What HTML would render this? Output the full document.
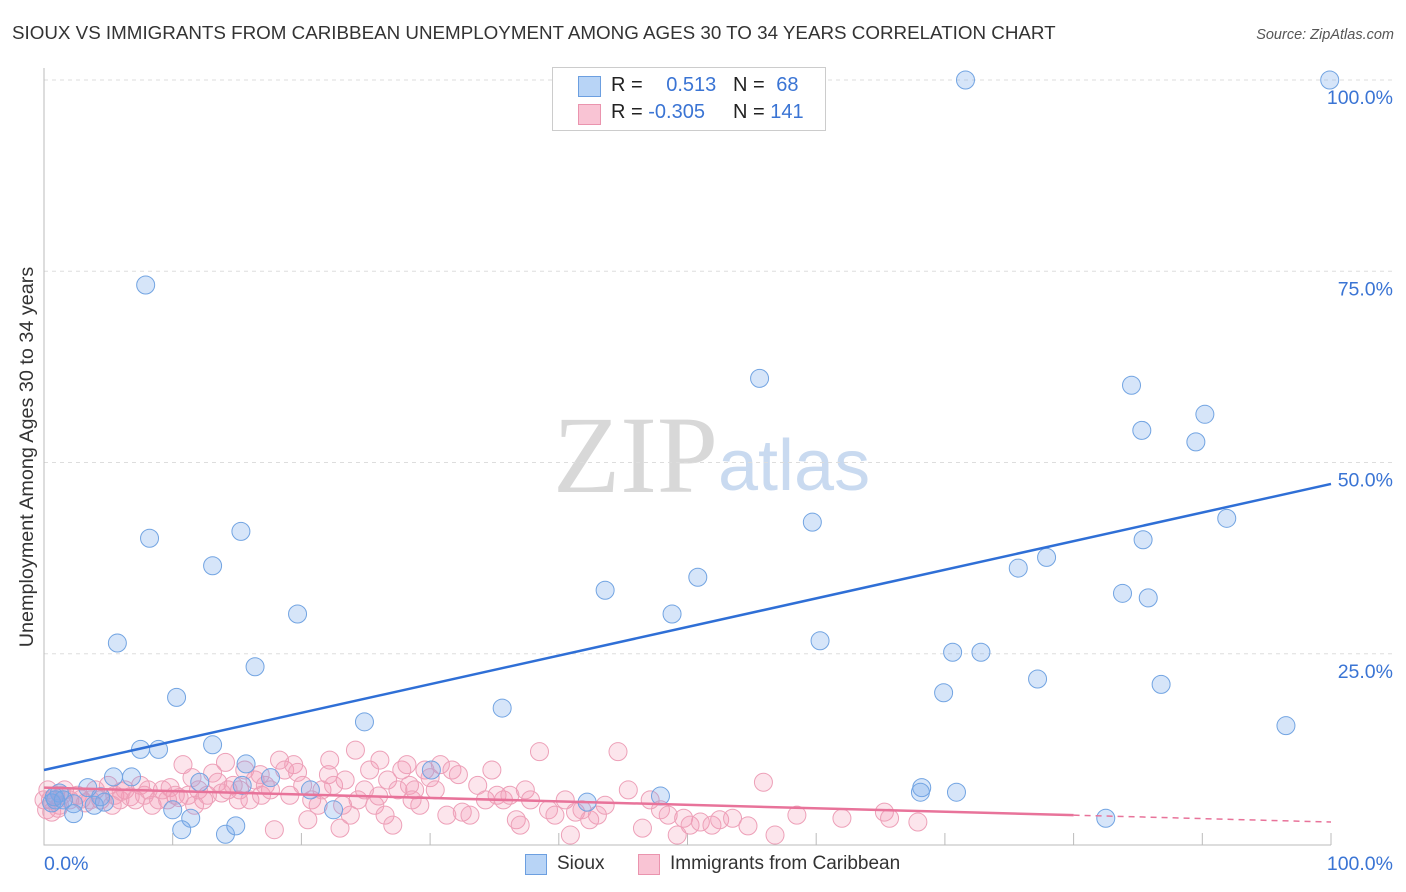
<!DOCTYPE html>
<html><head><meta charset="utf-8"><style>
body{margin:0;background:#fff;font-family:"Liberation Sans",sans-serif}
#wrap{position:relative;width:1406px;height:892px;overflow:hidden}
svg text{font-family:"Liberation Sans",sans-serif}
</style></head><body>
<div id="wrap">
<svg id="c" width="1406" height="892">
<text x="12" y="39" font-size="18.8" fill="#333">SIOUX VS IMMIGRANTS FROM CARIBBEAN UNEMPLOYMENT AMONG AGES 30 TO 34 YEARS CORRELATION CHART</text>
<text x="1394" y="39" font-size="14.5" fill="#555" font-style="italic" text-anchor="end">Source: ZipAtlas.com</text>
<text x="33" y="457" font-size="19.8" fill="#333" text-anchor="middle" transform="rotate(-90 33 457)">Unemployment Among Ages 30 to 34 years</text>
<g>
<text x="553" y="492" font-size="110" fill="#d8d8d8" style="font-family:'Liberation Serif',serif">ZIP</text>
<text x="718" y="490" font-size="72" fill="#c9daf0">atlas</text>
</g>
<g id="grid"></g><g id="pts"></g><g id="trend"></g>
</svg>
<div style="position:absolute;left:552px;top:67px;width:272px;height:62px;border:1px solid #ccc;background:#fff;font-size:20px;color:#222">
 <div style="position:absolute;left:25px;top:8px;width:21px;height:19px;background:#b8d4f6;border:1px solid #6c9fe0"></div>
 <div style="position:absolute;left:25px;top:36px;width:21px;height:19px;background:#f9c4d4;border:1px solid #ea94ae"></div>
 <div style="position:absolute;left:58px;top:6px">R = <span style="color:#3a74d4;margin-left:18px">0.513</span></div>
 <div style="position:absolute;left:180px;top:6px">N = <span style="color:#3a74d4;margin-left:6px">68</span></div>
 <div style="position:absolute;left:58px;top:33px">R = <span style="color:#3a74d4">-0.305</span></div>
 <div style="position:absolute;left:180px;top:33px">N = <span style="color:#3a74d4">141</span></div>
</div>
<div style="position:absolute;top:853px;left:0;font-size:19px;color:#333">
 <div style="position:absolute;left:525px;top:1px;width:20px;height:19px;background:#b8d4f6;border:1px solid #6c9fe0"></div>
 <div style="position:absolute;left:557px;top:0">Sioux</div>
 <div style="position:absolute;left:638px;top:1px;width:20px;height:19px;background:#f9c4d4;border:1px solid #ea94ae"></div>
 <div style="position:absolute;left:670px;top:0;white-space:nowrap">Immigrants from Caribbean</div>
</div>
</div>
<script>
const yTicks=[25,50,75,100];
const yTickLabels=["25.0%","50.0%","75.0%","100.0%"];
const xEndLabels=["0.0%","100.0%"];
const siouxX=[71.6,99.9,7.9,55.6,84.5,90.2,85.3,89.5,15.3,8.2,59.7,91.9,13.1,77.9,75.7,85.4,50.8,43.6,83.8,85.8,48.8,19.7,5.7,60.3,16.4,70.6,72.8,10.3,69.9,77.2,86.8,35.6,24.9,96.5,7.5,8.9,13.1,6.8,5.4,3.4,1.2,2.3,3.9,4.7,4.4,0.9,0.6,10.0,11.4,10.7,14.1,14.9,20.7,22.5,17.6,15.4,15.7,30.1,42.2,47.9,68.2,68.1,70.9,82.5,2.3,0.8,12.1,1.5];
const siouxY=[100,100,73.2,61.0,60.1,56.3,54.2,52.7,41.0,40.1,42.2,42.7,36.5,37.6,36.2,39.9,35.0,33.3,32.9,32.3,30.2,30.2,26.4,26.7,23.3,25.2,25.2,19.3,19.9,21.7,21.0,17.9,16.1,15.6,12.5,12.5,13.1,8.9,8.9,7.5,6.8,5.4,5.2,5.6,6.3,5.9,5.5,4.6,3.5,2.0,1.4,2.5,7.2,4.6,8.8,7.8,10.6,9.8,5.6,6.4,7.5,6.9,6.9,3.5,4.1,6.3,8.2,5.9];
const caribX=[0.5,0.9,1.2,1.6,2.0,2.6,3.2,4.0,4.4,5.0,5.5,5.9,6.3,6.7,7.1,7.5,7.8,8.4,8.9,9.2,9.8,10.2,10.8,11.2,11.5,12.0,12.4,12.7,13.1,13.5,14.1,14.3,14.7,15.2,15.6,16.0,16.4,16.8,17.2,17.6,17.9,18.3,18.7,19.1,19.4,19.7,20.1,20.5,20.8,21.3,21.6,22.1,22.2,22.5,23.0,23.4,23.8,24.2,24.4,24.9,25.3,25.7,26.1,26.5,26.7,27.1,27.5,27.8,28.2,28.4,28.8,29.2,29.6,30.0,30.4,30.8,31.3,31.7,32.2,32.5,33.1,33.7,34.3,34.8,35.2,35.7,36.2,36.7,37.0,37.4,37.8,38.5,39.2,39.7,40.5,40.9,41.3,41.8,42.4,43.0,43.6,44.6,45.4,46.5,47.1,47.9,48.5,49.2,49.7,50.2,51.0,51.9,52.5,53.5,54.7,55.9,56.8,58.5,62.0,65.3,65.7,67.9,0,0.2,0.3,0.6,1.1,1.4,3.6,5.3,8.1,9.6,11.7,15.1,16.9,23.2,28.6,2.9,6.0,10.5,13.8,26.0];
const caribY=[5.9,6.5,5.2,7.2,5.9,6.5,5.5,7.2,5.9,7.8,6.5,5.9,7.2,6.3,5.9,7.8,6.5,5.2,5.9,7.2,7.5,6.5,10.5,6.5,8.8,7.2,5.9,6.5,9.4,8.2,10.8,7.2,7.8,7.2,9.8,5.9,8.5,9.2,7.8,7.2,2.0,11.1,9.8,6.5,10.5,9.5,7.8,3.3,5.9,5.2,7.2,9.2,11.1,7.8,2.2,8.5,3.9,12.4,5.9,7.2,9.8,5.2,11.1,3.9,8.5,2.6,7.2,9.8,10.5,7.8,7.2,5.2,9.8,8.8,7.2,10.5,3.9,9.8,9.2,4.3,3.9,7.8,5.9,9.8,6.5,5.9,6.5,3.3,2.6,7.2,5.9,12.2,4.6,3.9,5.9,1.3,4.3,4.6,3.3,3.9,5.2,12.2,7.2,2.2,5.9,4.6,3.9,1.3,3.5,2.6,3.0,2.6,3.3,3.5,2.5,8.2,1.3,3.9,3.5,4.3,3.5,3.0,5.9,4.6,7.2,4.3,4.8,6.5,5.9,5.2,7.2,5.9,5.2,5.9,6.5,5.2,5.9,6.0,7.0,6.2,6.8,6.4];
const trendSioux=[9.8,47.2];
const trendCarib=[7.5,3.0];
const caribSolidEnd=80;
const L=44,R=1331,T=80,B=845;
const sx=v=>L+(R-L)*v/100, sy=v=>B-(B-T)*v/100;
const NS="http://www.w3.org/2000/svg";
function mk(tag,attrs,parent){const e=document.createElementNS(NS,tag);for(const k in attrs)e.setAttribute(k,attrs[k]);parent.appendChild(e);return e;}
const grid=document.getElementById('grid'),pts=document.getElementById('pts'),tr=document.getElementById('trend');
yTicks.forEach((t,i)=>{
 const l=mk('line',{x1:L,x2:1394,y1:sy(t),y2:sy(t),stroke:'#ddd','stroke-dasharray':'4,4'},grid);
 
 
 const tx=mk('text',{x:1393,y:sy(t)+24,'font-size':19.5,fill:'#3a74d4','text-anchor':'end'},grid);
 tx.textContent=yTickLabels[i];
 
 
});
const ax=mk('path',{d:`M${L},68 V${B} H${R}`,stroke:'#bbb',fill:'none'},grid);


for(let k=1;k<=10;k++){
 const t=mk('line',{x1:sx(k*10),x2:sx(k*10),y1:B-12,y2:B,stroke:'#bbb'},grid);
 
 
}
const x0=mk('text',{x:44,y:870,'font-size':19.5,fill:'#3a74d4'},grid);x0.textContent=xEndLabels[0];


const x1=mk('text',{x:1393,y:870,'font-size':19.5,fill:'#3a74d4','text-anchor':'end'},grid);x1.textContent=xEndLabels[1];


caribX.forEach((x,i)=>{
 const c=mk('circle',{cx:sx(x),cy:sy(caribY[i]),r:9,fill:'rgba(244,150,180,0.25)',stroke:'#eda0b8','stroke-width':1},pts);
 
 
});
siouxX.forEach((x,i)=>{
 const c=mk('circle',{cx:sx(x),cy:sy(siouxY[i]),r:9,fill:'rgba(120,170,235,0.3)',stroke:'#72a4e2','stroke-width':1},pts);
 
 
});
const ts=mk('line',{x1:sx(0),y1:sy(trendSioux[0]),x2:sx(100),y2:sy(trendSioux[1]),stroke:'#2f6fd6','stroke-width':2.5},tr);


const cy=x=>trendCarib[0]+(trendCarib[1]-trendCarib[0])*x/100;
const tc=mk('line',{x1:sx(0),y1:sy(cy(0)),x2:sx(caribSolidEnd),y2:sy(cy(caribSolidEnd)),stroke:'#e8739a','stroke-width':2.5},tr);


const td=mk('line',{x1:sx(caribSolidEnd),y1:sy(cy(caribSolidEnd)),x2:sx(100),y2:sy(cy(100)),stroke:'#e8739a','stroke-width':1.5,'stroke-dasharray':'6,5'},tr);


</script>
</body></html>
